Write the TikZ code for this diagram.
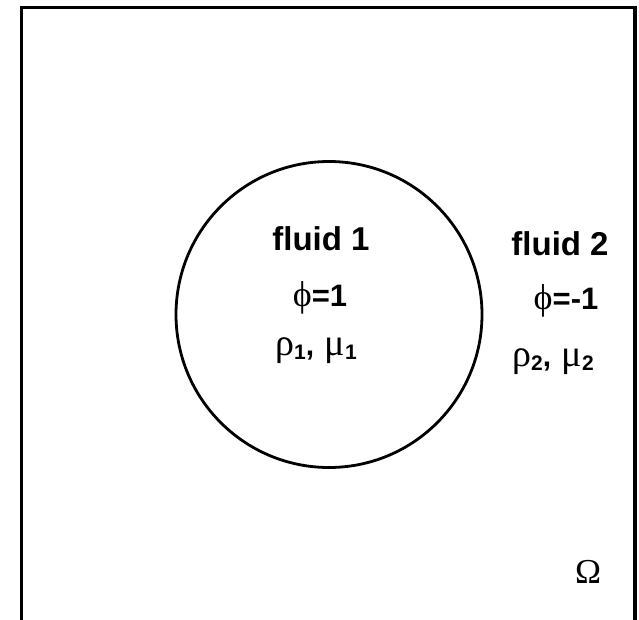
\documentclass[tikz,border=0pt]{standalone}
\usepackage{fontspec}
\setmainfont{Liberation Sans}
\newfontfamily\grk{Liberation Serif}
\begin{document}
\begin{tikzpicture}[x=1pt,y=-1pt,
  lbl/.style={anchor=base,inner sep=0pt,outer sep=0pt},
  big/.style={font=\fontsize{33}{36}\selectfont\bfseries},
  mid/.style={font=\fontsize{31}{34}\selectfont\bfseries},
  gk/.style={font=\fontsize{38}{42}\selectfont}]
\useasboundingbox (0,0) rectangle (639,620);
\coordinate (bl) at (21.5,620);
\coordinate (tl) at (21.5,7.5);
\coordinate (tr) at (635,7.5);
\coordinate (br) at (635,620);
\draw[line width=3.2pt] (bl) -- (tl) -- (tr) -- (br);
\node[circle,draw,line width=2.8pt,minimum size=306pt,inner sep=0pt] (drop) at (329,314.5) {};
\node[lbl,big] (f1) at (321,251) {fluid 1};
\node[lbl,mid] (p1) at (320,306) {{\grk\mdseries\fontsize{36}{40}\selectfont ϕ}=1};
\node[lbl,gk] (r1) at (316,355) {{\grk ρ}\raisebox{-4pt}{\fontsize{21}{24}\selectfont\bfseries 1}{\fontsize{30}{32}\selectfont\bfseries ,} {\grk μ}\raisebox{-4pt}{\fontsize{21}{24}\selectfont\bfseries 1}};
\node[lbl,big] (f2) at (560,255) {fluid 2};
\node[lbl,mid] (p2) at (566,309) {{\grk\mdseries\fontsize{36}{40}\selectfont ϕ}=-1};
\node[lbl,gk] (r2) at (553,366) {{\grk ρ}\raisebox{-4pt}{\fontsize{21}{24}\selectfont\bfseries 2}{\fontsize{30}{32}\selectfont\bfseries ,} {\grk μ}\raisebox{-4pt}{\fontsize{21}{24}\selectfont\bfseries 2}};
\node[lbl,font=\fontsize{35}{38}\selectfont\grk] (om) at (588,583) {Ω};
\end{tikzpicture}
\end{document}
